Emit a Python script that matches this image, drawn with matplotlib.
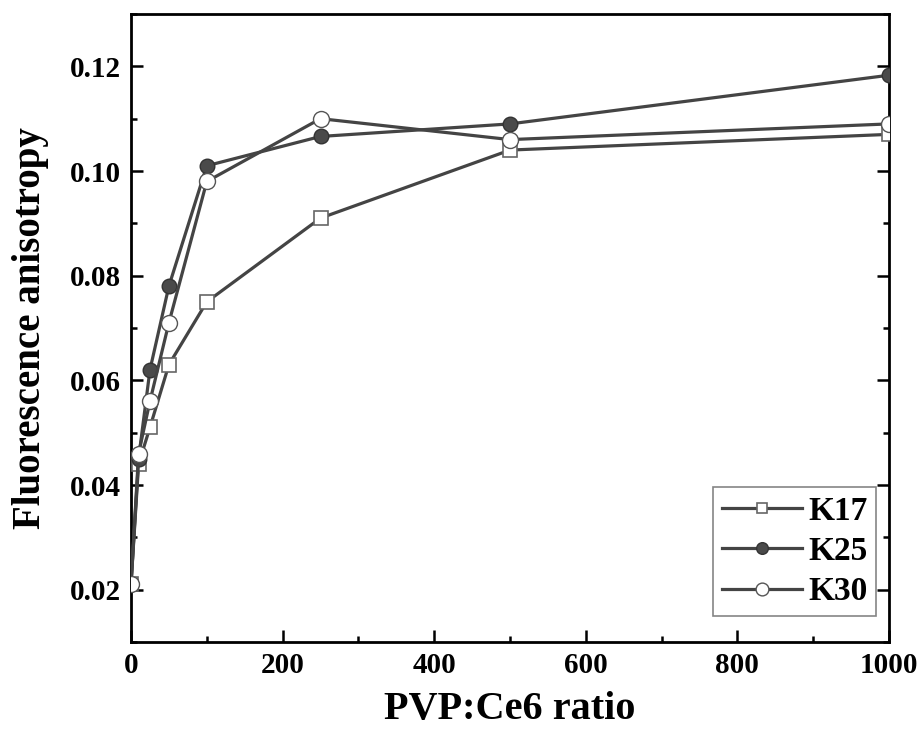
import matplotlib.pyplot as plt
from matplotlib.ticker import MultipleLocator

ratio = [0, 10, 25, 50, 100, 250, 500, 1000]
k17 = [0.021, 0.044, 0.051, 0.063, 0.075, 0.091, 0.104, 0.107]
k25 = [0.021, 0.045, 0.062, 0.078, 0.101, 0.1066, 0.109, 0.1183]
k30 = [0.021, 0.046, 0.056, 0.071, 0.098, 0.110, 0.106, 0.109]

plt.rcParams['font.family'] = ['Liberation Serif', 'DejaVu Serif']
plt.rcParams['font.weight'] = 'bold'

line_color = '#444444'

fig = plt.figure(figsize=(9.22, 7.32), dpi=100)
ax = fig.add_axes([131 / 922, 90 / 732, 758 / 922, 628 / 732])

ax.plot(ratio, k17, color=line_color, lw=2.3, marker='s', ms=9.5,
        mfc='white', mec='#666666', mew=1.2, label='K17', zorder=3)
ax.plot(ratio, k25, color=line_color, lw=2.3, marker='o', ms=10.5,
        mfc='#4a4a4a', mec='#333333', mew=1.0, label='K25', zorder=4)
ax.plot(ratio, k30, color=line_color, lw=2.3, marker='o', ms=11.5,
        mfc='white', mec='#555555', mew=1.0, label='K30', zorder=5)

ax.set_xlim(0, 1000)
ax.set_ylim(0.01, 0.13)
ax.xaxis.set_major_locator(MultipleLocator(200))
ax.xaxis.set_minor_locator(MultipleLocator(100))
ax.yaxis.set_minor_locator(MultipleLocator(0.01))
ax.set_yticks([0.02, 0.04, 0.06, 0.08, 0.10, 0.12])
ax.set_yticklabels(['0.02', '0.04', '0.06', '0.08', '0.10', '0.12'])

ax.tick_params(which='both', direction='in', right=True, top=False,
               labelsize=21, width=1.8, pad=7)
ax.tick_params(which='major', length=8.5)
ax.tick_params(which='minor', length=4.5)
for lab in ax.get_xticklabels() + ax.get_yticklabels():
    lab.set_fontweight('bold')
for s in ax.spines.values():
    s.set_linewidth(2)

ax.set_xlabel('PVP:Ce6 ratio', fontsize=29, fontweight='bold', labelpad=9)
ax.set_ylabel('Fluorescence anisotropy', fontsize=28, fontweight='bold', labelpad=15)

leg = ax.legend(loc='lower right', fontsize=24, frameon=True, fancybox=False,
                edgecolor='#666666', handlelength=2.4, borderpad=0.25,
                labelspacing=0.28, handletextpad=0.2, borderaxespad=0,
                markerscale=0.8, bbox_to_anchor=(0.983, 0.042))
leg.get_frame().set_linewidth(1.2)
for t in leg.get_texts():
    t.set_fontweight('bold')

fig.savefig('out.png', dpi=100)
